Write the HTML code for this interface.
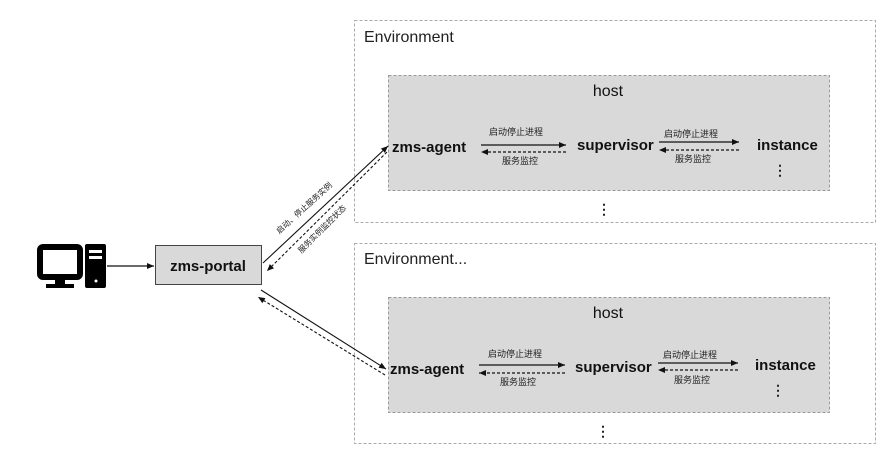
<!DOCTYPE html>
<html><head><meta charset="utf-8"><style>
html,body{margin:0;padding:0;background:#fff;}
svg text{font-family:"Liberation Sans","Noto Sans CJK SC",sans-serif;}
</style></head><body>
<svg width="882" height="458" viewBox="0 0 882 458" xmlns="http://www.w3.org/2000/svg">
<defs>
<marker id="a" markerWidth="8" markerHeight="8" refX="7" refY="4" orient="auto" markerUnits="userSpaceOnUse"><path d="M0,1 L7,4 L0,7 Z" fill="#111"/></marker>
</defs>
<rect x="354.5" y="20.5" width="521" height="202" fill="#fff" stroke="#aaa" stroke-dasharray="3,2"/>
<rect x="354.5" y="243.5" width="521" height="200" fill="#fff" stroke="#aaa" stroke-dasharray="3,2"/>
<text x="364" y="42" font-size="16" fill="#222">Environment</text>
<text x="364" y="264" font-size="16" fill="#222">Environment...</text>
<rect x="388.5" y="75.5" width="441" height="115" fill="#d9d9d9" stroke="#999" stroke-dasharray="3,2"/>
<rect x="388.5" y="297.5" width="441" height="115" fill="#d9d9d9" stroke="#999" stroke-dasharray="3,2"/>
<text x="608" y="96" font-size="16" text-anchor="middle" fill="#111">host</text>
<text x="608" y="318" font-size="16" text-anchor="middle" fill="#111">host</text>

<g font-weight="bold" font-size="15" fill="#111">
<text x="392" y="152">zms-agent</text>
<text x="577" y="150">supervisor</text>
<text x="757" y="150">instance</text>
<text x="390" y="374">zms-agent</text>
<text x="575" y="372">supervisor</text>
<text x="755" y="370">instance</text>
</g>
<g stroke="#111" stroke-width="1.2">
<line x1="481" y1="145" x2="566" y2="145" marker-end="url(#a)"/>
<line x1="566" y1="152" x2="481" y2="152" stroke-dasharray="3,2" marker-end="url(#a)"/>
<line x1="659" y1="142" x2="739" y2="142" marker-end="url(#a)"/>
<line x1="739" y1="150" x2="659" y2="150" stroke-dasharray="3,2" marker-end="url(#a)"/>
<line x1="479" y1="365" x2="565" y2="365" marker-end="url(#a)"/>
<line x1="565" y1="373" x2="479" y2="373" stroke-dasharray="3,2" marker-end="url(#a)"/>
<line x1="658" y1="363" x2="738" y2="363" marker-end="url(#a)"/>
<line x1="738" y1="370" x2="658" y2="370" stroke-dasharray="3,2" marker-end="url(#a)"/>
</g>
<g font-size="9" fill="#222" text-anchor="middle">
<text x="516" y="135">启动停止进程</text>
<text x="520" y="164">服务监控</text>
<text x="691" y="137">启动停止进程</text>
<text x="693" y="162">服务监控</text>
<text x="515" y="357">启动停止进程</text>
<text x="518" y="385">服务监控</text>
<text x="690" y="358">启动停止进程</text>
<text x="692" y="383">服务监控</text>
</g>
<g font-size="14" fill="#222" text-anchor="middle" font-weight="bold">
<text x="780" y="175">⋮</text>
<text x="604" y="214">⋮</text>
<text x="778" y="395">⋮</text>
<text x="603" y="436">⋮</text>
</g>

<rect x="40" y="247" width="40" height="30" rx="3" fill="none" stroke="#000" stroke-width="6"/>
<rect x="55" y="279" width="10" height="6" fill="#000"/>
<rect x="46" y="284" width="28" height="4" fill="#000"/>
<rect x="85" y="244" width="21" height="44" rx="2" fill="#000"/>
<rect x="89" y="250" width="13" height="3" fill="#fff"/>
<rect x="89" y="256" width="13" height="3" fill="#fff"/>
<circle cx="96" cy="281" r="1.5" fill="#fff"/>
<line x1="107" y1="266" x2="154" y2="266" stroke="#111" stroke-width="1.2" marker-end="url(#a)"/>

<rect x="155.5" y="245.5" width="106" height="39" fill="#d9d9d9" stroke="#444"/>
<text x="208" y="271" font-size="15" font-weight="bold" text-anchor="middle" fill="#111">zms-portal</text>

<g stroke="#111" stroke-width="1.1">
<line x1="263" y1="263" x2="388" y2="146" marker-end="url(#a)"/>
<line x1="387" y1="152" x2="267" y2="271" stroke-dasharray="3,2" marker-end="url(#a)"/>
<line x1="261" y1="290" x2="386" y2="369" marker-end="url(#a)"/>
<line x1="385" y1="375" x2="258" y2="297" stroke-dasharray="3,2" marker-end="url(#a)"/>
</g>
<g font-size="8" fill="#222" text-anchor="middle">
<text x="0" y="0" transform="translate(306,210) rotate(-42)">启动、停止服务实例</text>
<text x="0" y="0" transform="translate(324,231) rotate(-45)">服务实例监控状态</text>
</g>
</svg>
</body></html>
